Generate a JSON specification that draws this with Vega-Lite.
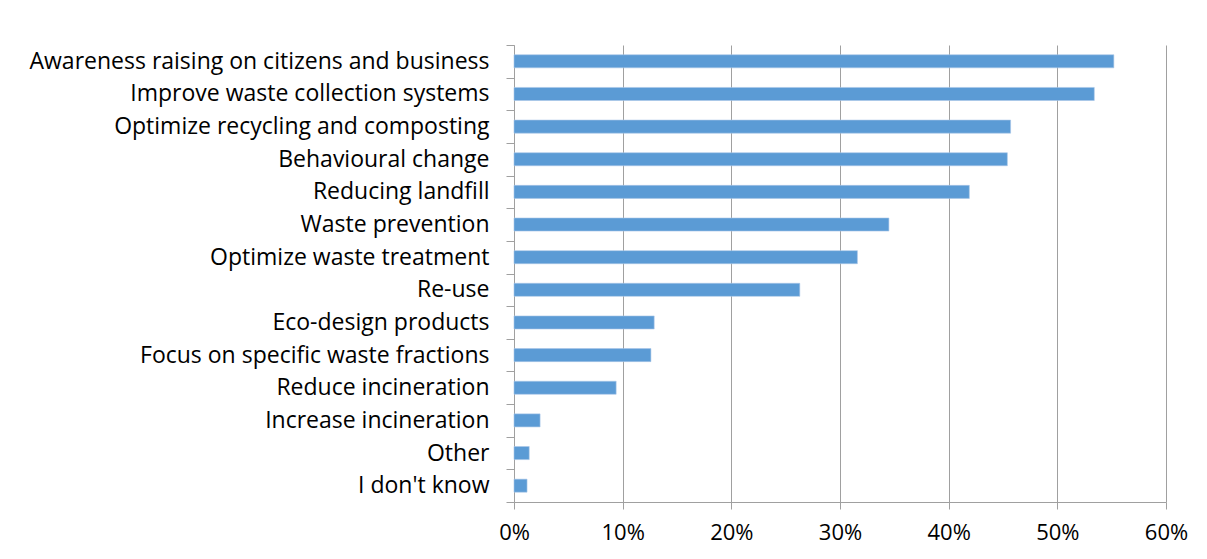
{
  "$schema": "https://vega.github.io/schema/vega-lite/v6.json",
  "width": 652,
  "height": 457,
  "autosize": "none",
  "padding": {"left": 514, "top": 45, "right": 41, "bottom": 57},
  "background": "white",
  "data": {
    "values": [
      {"measure": "Awareness raising on citizens and business", "share": 0.552},
      {"measure": "Improve waste collection systems", "share": 0.534},
      {"measure": "Optimize recycling and composting", "share": 0.457},
      {"measure": "Behavioural change", "share": 0.454},
      {"measure": "Reducing landfill", "share": 0.419},
      {"measure": "Waste prevention", "share": 0.345},
      {"measure": "Optimize waste treatment", "share": 0.316},
      {"measure": "Re-use", "share": 0.263},
      {"measure": "Eco-design products", "share": 0.129},
      {"measure": "Focus on specific waste fractions", "share": 0.126},
      {"measure": "Reduce incineration", "share": 0.094},
      {"measure": "Increase incineration", "share": 0.024},
      {"measure": "Other", "share": 0.014},
      {"measure": "I don't know", "share": 0.012}
    ]
  },
  "mark": {"type": "bar", "color": "#5b9bd5", "stroke": "#a9c6e8", "strokeWidth": 0.6, "height": {"band": 0.4}},
  "encoding": {
    "y": {
      "field": "measure",
      "type": "nominal",
      "sort": null,
      "scale": {"paddingInner": 0, "paddingOuter": 0},
      "axis": {
        "title": null,
        "tickBand": "extent",
        "tickSize": 8,
        "tickColor": "#a0a0a0",
        "domainColor": "#a0a0a0",
        "labelPadding": 17,
        "labelFont": "Open Sans",
        "labelFontSize": 23,
        "labelColor": "#000000",
        "labelLimit": 600,
        "grid": false
      }
    },
    "x": {
      "field": "share",
      "type": "quantitative",
      "scale": {"domain": [0, 0.6], "nice": false},
      "axis": {
        "title": null,
        "values": [0, 0.1, 0.2, 0.3, 0.4, 0.5, 0.6],
        "format": ".0%",
        "grid": true,
        "gridColor": "#a0a0a0",
        "gridWidth": 1,
        "tickSize": 7,
        "tickColor": "#a0a0a0",
        "domainColor": "#a0a0a0",
        "labelPadding": 13,
        "labelFont": "Open Sans",
        "labelFontSize": 22,
        "labelColor": "#000000",
        "labelFlush": false
      }
    }
  },
  "config": {
    "view": {"stroke": null}
  }
}
